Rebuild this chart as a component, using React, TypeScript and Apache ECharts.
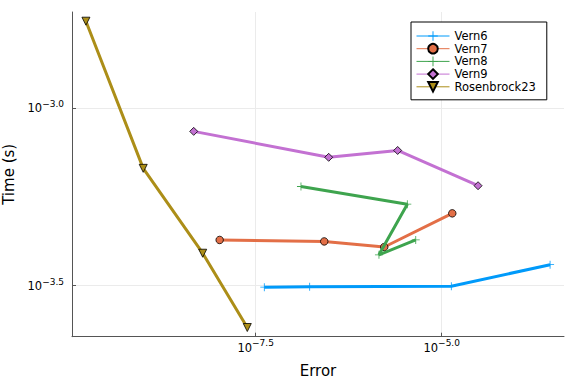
import React, { useEffect, useRef } from "react";
import * as echarts from "echarts";

const FONT = "DejaVu Sans";

const seriesNames = ["Vern6", "Vern7", "Vern8", "Vern9", "Rosenbrock23"];
const seriesColors = ["#009AFA", "#E36F47", "#3EA44E", "#C371D2", "#AC8E18"];

const vern6Error = [4.13e-8, 1.683e-7, 1.346e-5, 2.86e-4];
const vern6Time = [3.13e-4, 3.14e-4, 3.148e-4, 3.62e-4];

const vern7Error = [1.038e-8, 2.64e-7, 1.69e-6, 1.387e-5];
const vern7Time = [4.25e-4, 4.21e-4, 4.06e-4, 5.05e-4];

const vern8Error = [1.285e-7, 3.45e-6, 1.435e-6, 4.48e-6];
const vern8Time = [6.01e-4, 5.36e-4, 3.86e-4, 4.25e-4];

const vern9Error = [4.65e-9, 3.03e-7, 2.56e-6, 3.08e-5];
const vern9Time = [8.59e-4, 7.26e-4, 7.59e-4, 6.04e-4];

const rosenbrockError = [1.656e-10, 9.75e-10, 6.14e-9, 2.44e-8];
const rosenbrockTime = [1.754e-3, 6.76e-4, 3.9e-4, 2.41e-4];

const xTickExponents = [-7.5, -5.0];
const yTickExponents = [-3.5, -3.0];

const allErrors = [vern6Error, vern7Error, vern8Error, vern9Error, rosenbrockError];
const allTimes = [vern6Time, vern7Time, vern8Time, vern9Time, rosenbrockTime];

const PLUS = "path://M0,4.5H10V5.5H0Z M4.5,0H5.5V10H4.5Z";
const TRI_DOWN = "path://M0,0L10,0L5,9Z";

function padRange(vals: number[]) {
  const lo = Math.min(...vals);
  const hi = Math.max(...vals);
  const span = hi - lo;
  return [lo - 0.03 * span, hi + 0.03 * span];
}

const fmt = (v: number) => {
  const s = (v < 0 ? "\u2212" : "") + Math.abs(v).toFixed(1);
  return `{b|10}{s|${s}}`;
};

const rich = {
  b: { fontSize: 11.5, fontFamily: FONT, color: "#000", verticalAlign: "bottom", lineHeight: 13 },
  s: { fontSize: 9, fontFamily: FONT, color: "#000", verticalAlign: "bottom", lineHeight: 10, padding: [0, 0, 6, 0] },
};

export default function App() {
  const ref = useRef<HTMLDivElement>(null);
  useEffect(() => {
    if (!ref.current) return;
    const chart = echarts.init(ref.current, null, { renderer: "svg" });
    const logX = allErrors.map((a) => a.map((v) => Math.log10(v)));
    const logY = allTimes.map((a) => a.map((v) => Math.log10(v)));
    const [xMin, xMax] = padRange(logX.flat());
    const [yMin, yMax] = padRange(logY.flat());

    const symbols = [PLUS, "circle", PLUS, "diamond", TRI_DOWN];
    const sizes = [8, 7.5, 8, 8, 8];

    const series = seriesNames.map((name, i) => {
      const plus = symbols[i] === PLUS;
      return {
        name,
        type: "line",
        data: logX[i].map((x, j) => [x, logY[i][j]]),
        symbol: symbols[i],
        symbolSize: sizes[i],
        showAllSymbol: true,
        lineStyle: { color: seriesColors[i], width: 3 },
        itemStyle: {
          color: seriesColors[i],
          borderColor: plus ? seriesColors[i] : "#000",
          borderWidth: plus ? 0 : 0.8,
        },
        emphasis: { disabled: true },
        silent: true,
        z: 2 + i,
      };
    });

    const axisLineStyle = { color: "#555", width: 1 };
    chart.setOption({
      animation: false,
      backgroundColor: "#fff",
      grid: { left: 72, right: 12, top: 12, bottom: 47.3, containLabel: false, outerBoundsMode: "none" },
      legend: {
        data: seriesNames,
        orient: "vertical",
        left: 411,
        top: 22,
        padding: [8, 11, 7, 5],
        itemGap: 0.7,
        itemWidth: 33,
        itemHeight: 12,
        borderColor: "#000",
        borderWidth: 1,
        backgroundColor: "#fff",
        lineStyle: { width: 1 },
        textStyle: { fontSize: 11.5, fontFamily: FONT, color: "#000", lineHeight: 12 },
      },
      xAxis: {
        type: "value",
        min: xMin,
        max: xMax,
        name: "Error",
        nameLocation: "middle",
        nameGap: 27,
        nameTextStyle: { fontSize: 15, fontFamily: FONT, color: "#000" },
        axisLine: { show: true, lineStyle: axisLineStyle },
        axisTick: { show: true, inside: true, length: 4, customValues: xTickExponents, lineStyle: axisLineStyle },
        axisLabel: { customValues: xTickExponents, formatter: fmt, rich, margin: 4 },
        splitLine: { show: true, lineStyle: { color: "#ebebeb", width: 1 } },
      },
      yAxis: {
        type: "value",
        min: yMin,
        max: yMax,
        name: "Time (s)",
        nameLocation: "middle",
        nameGap: 50,
        nameTextStyle: { fontSize: 15, fontFamily: FONT, color: "#000" },
        axisLine: { show: true, lineStyle: axisLineStyle },
        axisTick: { show: true, inside: true, length: 4, customValues: yTickExponents, lineStyle: axisLineStyle },
        axisLabel: { customValues: yTickExponents, formatter: fmt, rich, margin: 8 },
        splitLine: { show: true, lineStyle: { color: "#ebebeb", width: 1 } },
      },
      series,
    });
    return () => chart.dispose();
  }, []);
  return (
    <div
      ref={ref}
      style={{ position: "fixed", left: 0, top: 0, width: 576, height: 384, background: "#fff" }}
    />
  );
}
